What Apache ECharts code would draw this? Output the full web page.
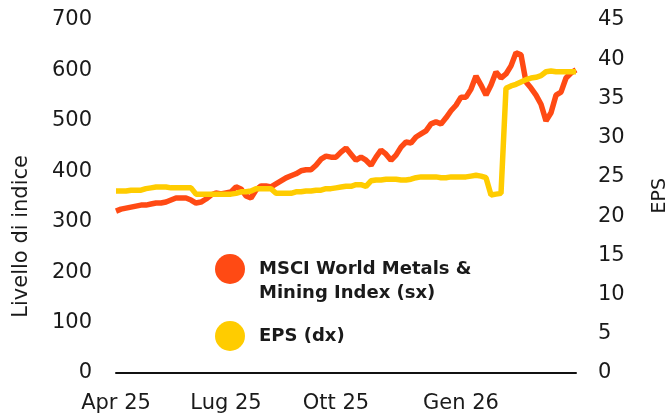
<!DOCTYPE html>
<html>
<head>
<meta charset="utf-8">
<script src="https://cdn.jsdelivr.net/npm/echarts@6/dist/echarts.min.js"></script>
<style>
  html, body { margin: 0; padding: 0; background: #fff; }
  #chart { width: 671px; height: 416px; }
</style>
</head>
<body>
<div id="chart"></div>
<script>
// MSCI World Metals & Mining index (left axis), roughly every few trading days
const msciIndex = [
  321, 325, 327, 329, 331, 333, 333, 335, 337, 337,
  339, 343, 347, 347, 347, 343, 337, 339, 345, 353,
  357, 355, 357, 359, 369, 365, 351, 347, 363, 371,
  371, 369, 375, 381, 387, 391, 395, 401, 403, 403,
  412, 424, 430, 428, 428, 438, 446, 434, 422, 428,
  422, 412, 428, 442, 434, 422, 432, 448, 458, 456,
  468, 474, 480, 494, 498, 494, 506, 520, 531, 547,
  547, 563, 589, 571, 551, 571, 597, 585, 593, 609,
  635, 631, 577, 565, 551, 533, 500, 516, 551, 557,
  585, 595, 601
];

// EPS (right axis)
const eps = [
  23.2, 23.2, 23.2, 23.3, 23.3, 23.3, 23.5, 23.6, 23.7, 23.7,
  23.7, 23.6, 23.6, 23.6, 23.6, 23.6, 22.8, 22.8, 22.8, 22.8,
  22.8, 22.8, 22.8, 22.8, 22.9, 23.1, 23.1, 23.2, 23.5, 23.5,
  23.5, 23.5, 22.9, 22.9, 22.9, 22.9, 23.1, 23.1, 23.2, 23.2,
  23.3, 23.3, 23.5, 23.5, 23.6, 23.7, 23.8, 23.8, 24.0, 24.0,
  23.8, 24.5, 24.6, 24.6, 24.7, 24.7, 24.7, 24.6, 24.6, 24.7,
  24.9, 25.0, 25.0, 25.0, 25.0, 24.9, 24.9, 25.0, 25.0, 25.0,
  25.0, 25.1, 25.2, 25.1, 24.9, 22.7, 22.8, 22.9, 36.3, 36.6,
  36.8, 37.1, 37.4, 37.6, 37.7, 37.9, 38.4, 38.5, 38.4, 38.4,
  38.4, 38.4, 38.4
];

// x axis labels and the data index they sit on
const tickLabels = ["Apr 25", "Lug 25", "Ott 25", "Gen 26"];
const tickIndex = [0, 22, 44, 69];

const categories = msciIndex.map((_, i) => i);

const MSCI_NAME = "MSCI World Metals &\nMining Index (sx)";
const EPS_NAME = "EPS (dx)";

const RED = "#FF4A14";
const YELLOW = "#FFCC00";
const TEXT = "#1a1a1a";
const FONT = "DejaVu Sans";

const chart = echarts.init(document.getElementById("chart"));

const option = {
  animation: false,
  textStyle: { fontFamily: FONT },
  grid: { left: 116, right: 95, top: 20, bottom: 43 },
  legend: {
    orient: "vertical",
    left: 210,
    top: 228,
    icon: "circle",
    itemWidth: 30,
    itemHeight: 30,
    itemGap: 16,
    // blank first line so the dot lines up with the first text line
    formatter: (name) => (name === MSCI_NAME ? " \n" + name : name),
    textStyle: {
      fontFamily: FONT,
      fontSize: 18,
      fontWeight: "bold",
      color: TEXT,
      lineHeight: 24,
      padding: [0, 0, 0, 9],
    },
    data: [MSCI_NAME, EPS_NAME],
  },
  xAxis: {
    type: "category",
    data: categories,
    boundaryGap: false,
    axisLine: { lineStyle: { color: "#111", width: 2 } },
    axisTick: { show: false },
    axisLabel: {
      interval: (index) => tickIndex.includes(index),
      formatter: (value, index) => tickLabels[tickIndex.indexOf(index)] || "",
      margin: 20,
      fontSize: 21,
      color: TEXT,
      fontFamily: FONT,
    },
    splitLine: { show: false },
  },
  yAxis: [
    {
      type: "value",
      min: 0,
      max: 700,
      interval: 100,
      axisLine: { show: false },
      axisTick: { show: false },
      splitLine: { show: false },
      axisLabel: { fontSize: 21, color: TEXT, margin: 24, fontFamily: FONT },
    },
    {
      type: "value",
      min: 0,
      max: 45,
      interval: 5,
      axisLine: { show: false },
      axisTick: { show: false },
      splitLine: { show: false },
      axisLabel: { fontSize: 21, color: TEXT, margin: 22, fontFamily: FONT },
    },
  ],
  graphic: [
    {
      type: "text",
      left: 11,
      top: 155,
      rotation: Math.PI / 2,
      style: {
        text: "Livello di indice",
        font: "21px " + FONT,
        fill: TEXT,
      },
    },
    {
      type: "text",
      left: 651,
      top: 178,
      rotation: Math.PI / 2,
      style: {
        text: "EPS",
        font: "19px " + FONT,
        fill: TEXT,
      },
    },
  ],
  series: [
    {
      name: MSCI_NAME,
      type: "line",
      yAxisIndex: 0,
      data: msciIndex,
      showSymbol: false,
      lineStyle: { color: RED, width: 5.5 },
      itemStyle: { color: RED },
    },
    {
      name: EPS_NAME,
      type: "line",
      yAxisIndex: 1,
      data: eps,
      showSymbol: false,
      lineStyle: { color: YELLOW, width: 5.5 },
      itemStyle: { color: YELLOW },
    },
  ],
};

chart.setOption(option);
</script>
</body>
</html>
